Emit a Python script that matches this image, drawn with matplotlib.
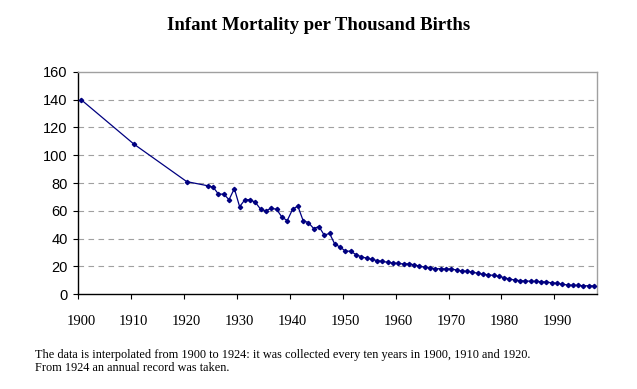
import matplotlib
matplotlib.use("Agg")
import matplotlib.pyplot as plt
from matplotlib.ticker import FixedLocator, NullFormatter

# ---------------------------------------------------------------- data
years = [1900, 1910, 1920] + list(range(1924, 1998))
rate = [
    140, 108, 81,
    # 1924-1933
    78, 77, 72, 72, 68, 76, 63, 68, 68, 66,
    # 1934-1943
    61, 60, 62, 61, 55.5, 53, 61, 63.5, 53, 51.5,
    # 1944-1953
    47.3, 48.7, 42.5, 43.8, 36, 34, 31, 31, 28.5, 27,
    # 1954-1963
    26, 25.2, 24.2, 23.7, 23, 22.5, 22.2, 21.8, 21.9, 21.2,
    # 1964-1973
    20.3, 19.4, 19.1, 18.4, 18.4, 18.2, 18.2, 17.5, 16.8, 16.5,
    # 1974-1983
    16.0, 15.1, 14.5, 14.0, 13.6, 12.9, 12.0, 11.0, 10.3, 9.8,
    # 1984-1993
    9.6, 9.4, 9.3, 9.1, 8.8, 8.3, 7.9, 7.3, 6.7, 6.5,
    # 1994-1997
    6.4, 6.2, 6.1, 6.0,
]
decades = list(range(1900, 2000, 10))
y_ticks = list(range(0, 161, 20))

title = "Infant Mortality per Thousand Births"
note = ("The data is interpolated from 1900 to 1924: it was collected every ten years in 1900, 1910 and 1920.\n"
        "From 1924 an annual record was taken.")

# ---------------------------------------------------------------- plot
fig = plt.figure(figsize=(6.37, 3.89), dpi=100)
ax = fig.add_axes([0.1229, 0.2434, 0.8138, 0.5723])

ax.plot(years, rate, color="#000080", lw=0.9, marker="D", ms=2.2,
        mec="#000080", mfc="#000080", zorder=3)

ax.set_xlim(1899.5, 1997.5)
ax.set_ylim(0, 160)

# category-style axis: labels centred on years, ticks between them
ax.set_xticks(decades)
ax.set_xticklabels([str(d) for d in decades], family="Liberation Serif", fontsize=10.5)
ax.tick_params(axis="x", which="major", length=0, pad=15)
ax.xaxis.set_minor_locator(FixedLocator([d - 0.5 for d in decades]))
ax.xaxis.set_minor_formatter(NullFormatter())
ax.tick_params(axis="x", which="minor", length=3.6, width=0.8, direction="out")

ax.set_yticks(y_ticks)
ax.set_yticklabels([str(v) for v in y_ticks], family="Liberation Sans", fontsize=10.5)
ax.tick_params(axis="y", length=3.6, width=0.8, direction="out", pad=4)

for v in y_ticks[1:-1]:
    ax.axhline(v, color="#a0a0a0", lw=0.8, ls=(0, (5, 4)), zorder=1)

for side in ("left", "bottom"):
    ax.spines[side].set_color("black")
    ax.spines[side].set_linewidth(1.0)
for side in ("top", "right"):
    ax.spines[side].set_color("#a0a0a0")
    ax.spines[side].set_linewidth(1.0)

fig.text(0.4995, 0.935, title, ha="center", va="center",
         family="Liberation Serif", fontweight="bold", fontsize=13.5)
fig.text(0.055, 0.071, note, ha="left", va="center",
         family="Liberation Serif", fontsize=8.8, linespacing=1.05)

fig.savefig("out.png", dpi=100, facecolor="white")
